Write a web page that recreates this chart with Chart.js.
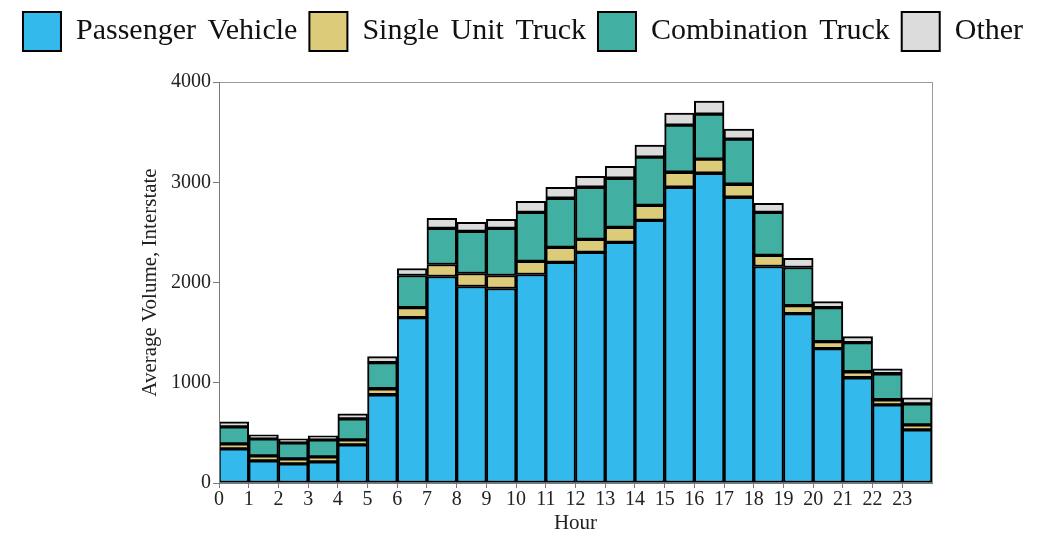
<!DOCTYPE html>
<html>
<head>
<meta charset="utf-8">
<script src="https://cdn.jsdelivr.net/npm/chart.js@4"></script>
<style>
  body { margin: 0; background: #fff; }
  #wrap { width: 1046px; height: 536px; }
</style>
</head>
<body>
<div id="wrap"><canvas id="volumeChart"></canvas></div>
<script>
// hourly volume by vehicle class
const hours = [0, 1, 2, 3, 4, 5, 6, 7, 8, 9, 10, 11, 12, 13, 14, 15, 16, 17, 18, 19, 20, 21, 22, 23];
const passengerVehicle = [340, 220, 190, 210, 380, 880, 1650, 2060, 1960, 1940, 2080, 2200, 2300, 2400, 2620, 2950, 3090, 2850, 2160, 1690, 1340, 1050, 780, 530];
const singleUnitTruck = [50, 50, 50, 50, 50, 60, 100, 120, 130, 130, 130, 150, 130, 150, 150, 150, 140, 130, 110, 80, 70, 60, 50, 50];
const combinationTruck = [170, 170, 160, 170, 210, 260, 320, 360, 420, 470, 490, 490, 520, 490, 480, 470, 450, 450, 430, 380, 340, 290, 260, 210];
const otherVehicle = [50, 40, 40, 40, 50, 60, 70, 100, 90, 90, 110, 110, 110, 120, 120, 120, 130, 100, 90, 90, 60, 60, 50, 60];
const yTicks = [0, 1000, 2000, 3000, 4000];

const serif = 'Liberation Serif, Times New Roman, serif';
const axisGray = '#7a7a7a';

// bars sit between hour ticks, so centre them on h + 0.5
const toPoints = values => values.map((v, i) => ({ x: hours[i] + 0.5, y: v }));

const makeSet = (label, values, color) => ({
    label: label,
    data: toPoints(values),
    backgroundColor: color,
    borderColor: '#000000',
    borderWidth: 2,
    borderSkipped: false,
    barPercentage: 1,
    categoryPercentage: 1,
    stack: 'all'
});

// wider word gaps for the legend only; axis layers are drawn after the datasets (z: 1)
const wordGap = {
    id: 'wordGap',
    beforeLayout: chart => { chart.ctx.wordSpacing = '4px'; },
    afterLayout: chart => { chart.ctx.wordSpacing = '0px'; },
    beforeDraw: chart => { chart.ctx.wordSpacing = '4px'; },
    afterDatasetsDraw: chart => { chart.ctx.wordSpacing = '0px'; }
};

new Chart(document.getElementById('volumeChart'), {
    type: 'bar',
    data: {
        datasets: [
            makeSet('Passenger Vehicle', passengerVehicle, '#34b9ec'),
            makeSet('Single Unit Truck', singleUnitTruck, '#dccb78'),
            makeSet('Combination Truck', combinationTruck, '#41afa1'),
            makeSet('Other', otherVehicle, '#dcdcdc')
        ]
    },
    plugins: [wordGap],
    options: {
        responsive: true,
        maintainAspectRatio: false,
        animation: false,
        layout: { padding: 0 },
        plugins: {
            tooltip: { enabled: false },
            legend: {
                position: 'top',
                labels: {
                    font: { family: serif, size: 30 },
                    color: '#111111',
                    boxWidth: 38,
                    boxHeight: 39,
                    padding: 12
                }
            }
        },
        scales: {
            x: {
                type: 'linear',
                min: 0,
                max: 24,
                offset: false,
                afterBuildTicks: scale => {
                    scale.ticks = hours.map(h => ({ value: h }));
                },
                afterFit: scale => { scale.height = 53; },
                ticks: {
                    z: 1,
                    font: { family: serif, size: 20 },
                    color: '#222222',
                    padding: 0,
                    maxRotation: 0,
                    autoSkip: false
                },
                grid: { z: 1, drawOnChartArea: false, drawTicks: true, tickLength: 5, color: axisGray, offset: false },
                border: { z: 1, display: true, color: axisGray, width: 1 },
                title: {
                    display: true,
                    text: 'Hour',
                    font: { family: serif, size: 21 },
                    color: '#222222',
                    padding: { top: 0, bottom: 0 }
                }
            },
            y: {
                stacked: true,
                min: 0,
                max: 4000,
                afterBuildTicks: scale => {
                    scale.ticks = yTicks.map(v => ({ value: v }));
                },
                afterFit: scale => { scale.width = 219; },
                ticks: {
                    z: 1,
                    font: { family: serif, size: 20 },
                    color: '#222222',
                    padding: 2,
                    callback: value => String(value)
                },
                grid: { z: 1, drawOnChartArea: false, drawTicks: true, tickLength: 6, color: axisGray },
                border: { z: 1, display: true, color: axisGray, width: 1 },
                title: {
                    display: true,
                    text: 'Average Volume, Interstate',
                    font: { family: serif, size: 21 },
                    color: '#222222',
                    padding: { top: 138, bottom: 0 }
                }
            },
            // empty axes that give the frame its top and right edges
            xTop: {
                type: 'linear',
                position: 'top',
                afterFit: scale => { scale.height = 21; },
                ticks: { display: false },
                grid: { display: false },
                border: { display: true, color: '#9a9a9a', width: 1 }
            },
            yRight: {
                type: 'linear',
                position: 'right',
                afterFit: scale => { scale.width = 114; },
                ticks: { display: false },
                grid: { display: false },
                border: { display: true, color: '#9a9a9a', width: 1 }
            }
        }
    }
});
</script>
</body>
</html>
